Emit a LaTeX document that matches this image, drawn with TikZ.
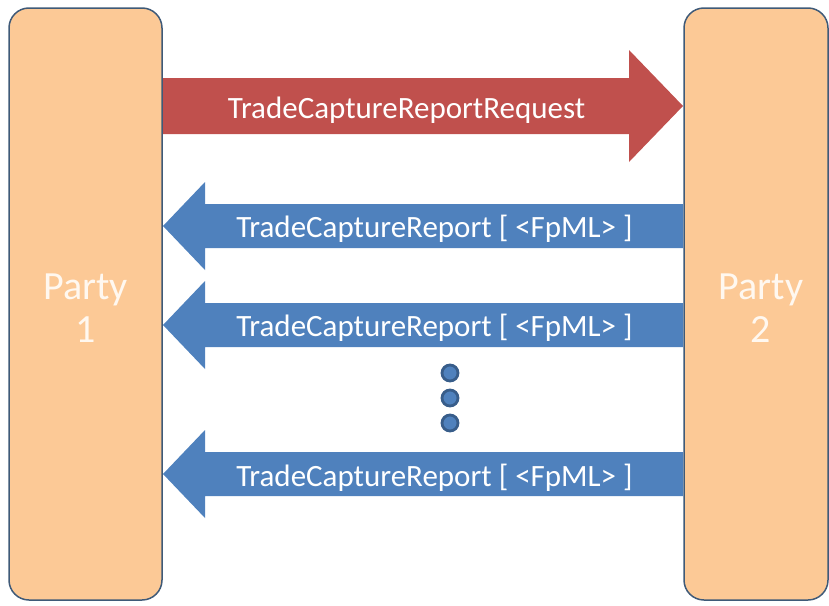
\documentclass[tikz,border=0pt]{standalone}
\usepackage{fontspec}
\setmainfont{Carlito}
\usetikzlibrary{shapes.arrows}
\definecolor{partyfill}{HTML}{FCC996}
\definecolor{partyline}{HTML}{3F5A78}
\definecolor{reqred}{HTML}{C0504D}
\definecolor{repblue}{HTML}{4F81BD}
\definecolor{dotline}{HTML}{385D8A}
\definecolor{partytext}{HTML}{FFF8F0}
\begin{document}
\begin{tikzpicture}[x=1pt,y=-1pt,
  partybox/.style={draw=partyline,line width=1.5pt,fill=partyfill,rounded corners=20pt},
  partylabel/.style={text=partytext,font=\fontsize{40}{43}\selectfont,align=center},
  msglabel/.style={text=white,font=\fontsize{31}{36}\selectfont},
  dotstyle/.style={circle,draw=dotline,line width=2.8pt,fill=repblue,minimum size=16pt,inner sep=0pt}]
\useasboundingbox (0,0) rectangle (829,605);
% party boxes
\draw[partybox] (9,8) rectangle (162,600);
\draw[partybox] (684,8) rectangle (828,600);
\node[partylabel] (p1) at (85.5,308.5) {Party\\1};
\node[partylabel] (p2) at (761,308.5) {Party\\2};
% request arrow
\fill[reqred] (163,78) -- (629,78) -- (629,50) -- (683,106) -- (629,162) -- (629,134) -- (163,134) -- cycle;
\node[msglabel] (req) at (406.5,110) {TradeCaptureReportRequest};
% report arrows
\foreach \yc/\ty/\nm in {226/229/r1,325/328/r2,474/478/r3}{
  \fill[repblue] (683,\yc-22) -- (205,\yc-22) -- (205,\yc-44) -- (163,\yc) -- (205,\yc+44) -- (205,\yc+22) -- (683,\yc+22) -- cycle;
  \node[msglabel] (\nm) at (434.5,\ty) {TradeCaptureReport [ <FpML> ]};
}
% dots
\node[dotstyle] (d1) at (450,373) {};
\node[dotstyle] (d2) at (450,398) {};
\node[dotstyle] (d3) at (450,423) {};
\end{tikzpicture}
\end{document}
